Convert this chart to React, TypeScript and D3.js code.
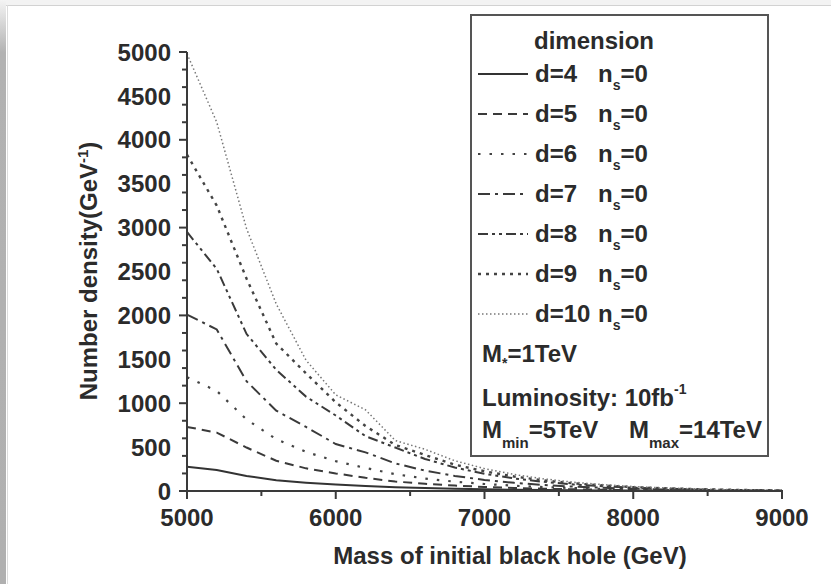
import * as React from 'react'
import * as d3 from 'd3'

// mass of initial black hole (GeV)
const masses = [5000, 5200, 5400, 5600, 5800, 6000, 6200, 6400, 6600, 6800, 7000,
  7200, 7400, 7600, 7800, 8000, 8200, 8400, 8600, 8800, 9000]

// number density for each dimension, n_s = 0
const dim4 = [275, 240, 172, 122, 95, 74, 56, 43, 33, 25, 19, 14, 11, 8, 6, 4.5, 3.5, 2.5, 2, 1.5, 1]
const dim5 = [730, 665, 495, 345, 258, 200, 150, 108, 82, 62, 46, 35, 26, 19, 14, 10, 7, 5, 4, 3, 2]
const dim6 = [1295, 1140, 815, 590, 445, 340, 262, 192, 142, 106, 80, 60, 44, 33, 24, 17, 12, 9, 6, 4, 3]
const dim7 = [2010, 1840, 1250, 915, 730, 535, 440, 315, 232, 172, 126, 93, 68, 50, 36, 26, 18, 13, 9, 6, 4]
const dim8 = [2950, 2530, 1790, 1380, 1075, 860, 625, 495, 365, 268, 196, 143, 104, 75, 54, 38, 27, 19, 13, 9, 6]
const dim9 = [3830, 3250, 2420, 1680, 1340, 1010, 740, 525, 410, 300, 225, 165, 120, 87, 62, 44, 31, 22, 15, 10, 7]
const dim10 = [4980, 4200, 2990, 2130, 1490, 1095, 925, 575, 475, 345, 255, 188, 138, 100, 72, 51, 36, 25, 17, 11, 7]

const dimensions = ['4', '5', '6', '7', '8', '9', '10']
const seriesValues = [dim4, dim5, dim6, dim7, dim8, dim9, dim10]

const xTicks = [5000, 6000, 7000, 8000, 9000]
const yTicks = [0, 500, 1000, 1500, 2000, 2500, 3000, 3500, 4000, 4500, 5000]

// line styles, same order as dimensions
const dashes = ['', '9,6', '2.5,9', '12,5,3,5', '10,4,3,4,3,4', '3,5', '1.5,2.5']
const widths = [2, 2, 2.2, 2, 2, 2.4, 1.5]
const strokes = ['#333', '#3a3a3a', '#444', '#3a3a3a', '#3a3a3a', '#444', '#777']

const FONT = '"Liberation Sans", Arial, sans-serif'
const INK = '#2b2b2b'

export default function App() {
  const x = d3.scaleLinear().domain([5000, 9000]).range([187, 782])
  const y = d3.scaleLinear().domain([0, 5000]).range([491, 52])

  const line = (vals: number[]) =>
    d3.line<number>()
      .x((_, i) => x(masses[i]))
      .y(d => y(d))
      .curve(d3.curveLinear)(vals) || ''

  const xMinor = x.ticks(8)
  const yMinor = y.ticks(20)

  const rowY = (i: number) => 82 + i * 40

  return (
    <svg width={831} height={584} style={{position: 'fixed', left: 0, top: 0}}
      fontFamily={FONT} fontWeight="bold" fill={INK}>
      <defs>
        <linearGradient id="strip" x1="0" y1="0" x2="0" y2="1">
          <stop offset="0" stopColor="#f4f4f4" />
          <stop offset="0.09" stopColor="#b2b2b2" />
          <stop offset="1" stopColor="#b0b0b0" />
        </linearGradient>
      </defs>
      <rect x={0} y={0} width={831} height={584} fill="#fff" />
      <rect x={0} y={0} width={831} height={5} fill="#f3f3f3" />
      <rect x={0} y={0} width={6} height={584} fill="url(#strip)" />
      <line x1={6} x2={831} y1={5.5} y2={5.5} stroke="#d2d2d2" />
      <line x1={7.5} x2={7.5} y1={5} y2={584} stroke="#dcdcdc" />

      {/* curves */}
      {seriesValues.map((vals, i) => (
        <path key={i} d={line(vals)} fill="none" stroke={strokes[i]}
          strokeWidth={widths[i]} strokeDasharray={dashes[i]} />
      ))}

      {/* axes */}
      <g stroke="#3a3a3a" strokeWidth={2}>
        <line x1={187} x2={187} y1={y(5000)} y2={y(0)} />
        <line x1={186} x2={783} y1={491} y2={491} />
        {yMinor.map(t => (
          <line key={t} x1={t % 500 === 0 ? 179 : 182} x2={187} y1={y(t)} y2={y(t)} />
        ))}
        {xMinor.map(t => (
          <line key={t} x1={x(t)} x2={x(t)} y1={491} y2={t % 1000 === 0 ? 499 : 496} />
        ))}
      </g>
      {yTicks.map(t => (
        <text key={t} x={171} y={y(t)} dy="0.36em" textAnchor="end" fontSize={24}>{t}</text>
      ))}
      {xTicks.map(t => (
        <text key={t} x={x(t)} y={526} textAnchor="middle" fontSize={24}>{t}</text>
      ))}
      <text x={510} y={564} textAnchor="middle" fontSize={24}>Mass of initial black hole (GeV)</text>
      <text transform="translate(97,271) rotate(-90)" textAnchor="middle" fontSize={24}>
        Number density(GeV<tspan fontSize={15} dy={-9}>-1</tspan><tspan dy={9}>)</tspan>
      </text>

      {/* legend */}
      <rect x={471} y={15} width={297} height={441} fill="#fff" stroke="#555" strokeWidth={2} />
      <text x={534} y={49} fontSize={24}>dimension</text>
      {dimensions.map((d, i) => (
        <g key={d}>
          <line x1={478} x2={528} y1={rowY(i) - 8} y2={rowY(i) - 8} stroke={strokes[i]}
            strokeWidth={widths[i]} strokeDasharray={dashes[i]} />
          <text x={535} y={rowY(i)} fontSize={24}>d={d}</text>
          <text x={598} y={rowY(i)} fontSize={24}>
            n<tspan fontSize={14} dy={8}>s</tspan><tspan dy={-8}>=0</tspan>
          </text>
        </g>
      ))}
      <text x={482} y={362} fontSize={24}>
        M<tspan fontSize={14} dy={6}>*</tspan><tspan dy={-6}>=1TeV</tspan>
      </text>
      <text x={482} y={406} fontSize={24}>
        Luminosity: 10fb<tspan fontSize={14} dy={-12}>-1</tspan>
      </text>
      <text x={482} y={438} fontSize={24}>
        M<tspan fontSize={15} dy={10}>min</tspan><tspan dy={-10}>=5TeV</tspan>
        <tspan x={629}>M</tspan><tspan fontSize={15} dy={10}>max</tspan><tspan dy={-10}>=14TeV</tspan>
      </text>
    </svg>
  )
}
